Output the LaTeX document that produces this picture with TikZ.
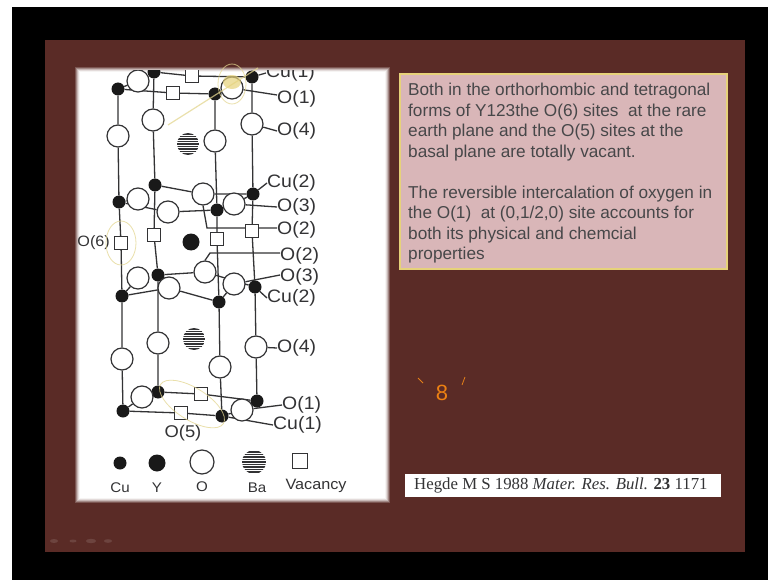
\documentclass[tikz,border=0pt]{standalone}
\usepackage{fontspec}
\setmainfont{Liberation Sans}
\newfontfamily\serifcite{Liberation Serif}
\newfontfamily\lab[FakeStretch=1.08]{Liberation Sans}
\definecolor{slide}{HTML}{5A2B26}
\definecolor{ink}{HTML}{333335}
\definecolor{pinkbox}{HTML}{D9B6B8}
\definecolor{goldline}{HTML}{E6D27A}
\definecolor{marker}{HTML}{E3D690}
\pgfdeclarelayer{back}\pgfdeclarelayer{edges}
\pgfsetlayers{back,edges,main}
\tikzset{
 cusite/.style={circle,fill=black!90,draw=none,minimum size=13pt,inner sep=0pt},
 ysite/.style={circle,fill=black!90,draw=none,minimum size=17pt,inner sep=0pt},
 osite/.style={circle,fill=white,draw=ink,line width=1.2pt,minimum size=22pt,inner sep=0pt},
 vac/.style={rectangle,fill=white,draw=ink,line width=1.2pt,minimum size=13pt,inner sep=0pt},
 ba/.style={circle,minimum size=22pt,inner sep=0pt,path picture={
   \fill[white] (path picture bounding box.south west) rectangle (path picture bounding box.north east);
   \foreach \k in {-10,-7.5,...,10}{\draw[ink,line width=1.7pt] ([yshift=\k pt]path picture bounding box.west) -- ([yshift=\k pt]path picture bounding box.east);}}},
 lbl/.style={font=\lab\fontsize{18}{18}\selectfont,text=ink,inner sep=0pt},
 leg/.style={font=\lab\fontsize{14}{14}\selectfont,text=ink,inner sep=0pt},
 bond/.style={draw=ink,line width=1.3pt},
 handmark/.style={draw=marker,line width=.8pt,opacity=.75},
}
\begin{document}
\begin{tikzpicture}[x=1pt,y=-1pt]
\useasboundingbox (0,0) rectangle (768,580);
\begin{pgfonlayer}{back}
\fill[white] (0,0) rectangle (768,580);
\fill[black] (12,7) rectangle (768,580);
\fill[slide] (45,40) rectangle (745,552);
\foreach \d/\o in {0/.2,1/.3,2/.4,3/.5,4/.7,5/1}{
 \fill[white,opacity=\o] (75+\d,67+\d) rectangle (390-\d,503-\d);}
\fill[pinkbox] (400,74) rectangle (727,269);
\draw[goldline,line width=2pt] (400,74) rectangle (727,269);
\fill[white] (405,474) rectangle (721,497);
\fill[slide!80!white,opacity=.6] (54,541) ellipse (4 and 2) (73,541) ellipse (3.5 and 1.5) (91,541) ellipse (5 and 2.2) (108,541) ellipse (4 and 1.8);
\end{pgfonlayer}

% top basal plane
\begin{scope}
\clip (70,71) rectangle (390,510);
\node[cusite] (ca1) at (118,89) {};
\node[cusite] (cb1) at (154,72) {};
\node[cusite] (cc1) at (215,94) {};
\node[cusite] (cd1) at (252,77) {};
\node[osite] (ob1) at (138,81) {};
\node[osite] (oc1) at (232,88) {};
\node[vac] (vt1) at (192,76) {};
\node[vac] (vt2) at (173,93) {};
\node[lbl,anchor=west] (lcu1t) at (266,73) {Cu(1)};
\end{scope}
\node[osite] (oa2) at (118,136) {};
\node[osite] (ob2) at (153,120) {};
\node[osite] (oc2) at (215,141) {};
\node[osite] (od2) at (252,124) {};
\node[ba] (ba1) at (188,144) {};
% upper CuO2 plane
\node[cusite] (ca3) at (119,202) {};
\node[cusite] (cb3) at (155,185) {};
\node[cusite] (cc3) at (217,210) {};
\node[cusite] (cd3) at (253,194) {};
\node[osite] (ob3) at (138,199) {};
\node[osite] (om3) at (203,194) {};
\node[osite] (on3) at (168,212) {};
\node[osite] (oc3) at (234,204) {};
% yttrium plane
\node[vac] (va4) at (121,243) {};
\node[vac] (vb4) at (154,235) {};
\node[vac] (vc4) at (217,239) {};
\node[vac] (vd4) at (252,231) {};
\node[ysite] (y1) at (191,242) {};
% lower CuO2 plane
\node[osite] (ob5) at (138,278) {};
\node[osite] (om5) at (205,272) {};
\node[cusite] (cb5) at (158,275) {};
\node[cusite] (ca5) at (122,296) {};
\node[osite] (on5) at (169,288) {};
\node[cusite] (cc5) at (219,302) {};
\node[cusite] (cd5) at (255,287) {};
\node[osite] (oc5) at (234,284) {};
% lower BaO plane
\node[osite] (oa6) at (122,359) {};
\node[osite] (ob6) at (158,343) {};
\node[osite] (oc6) at (220,367) {};
\node[osite] (od6) at (256,347) {};
\node[ba] (ba2) at (194,339) {};
% bottom plane
\node[cusite] (ca7) at (123,411) {};
\node[cusite] (cb7) at (158,392) {};
\node[cusite] (cc7) at (222,416) {};
\node[cusite] (cd7) at (257,401) {};
\node[osite] (ob7) at (142,397) {};
\node[osite] (oc7) at (242,410) {};
\node[vac] (vb7) at (201,394) {};
\node[vac] (va7) at (181,413) {};

% labels
\node[lbl,anchor=west] (lo1t) at (277,99) {O(1)};
\node[lbl,anchor=west] (lo4t) at (277,131) {O(4)};
\node[lbl,anchor=west] (lcu2t) at (267,183) {Cu(2)};
\node[lbl,anchor=west] (lo3t) at (277,207) {O(3)};
\node[lbl,anchor=west] (lo2t) at (277,230) {O(2)};
\node[lbl,anchor=west] (lo2b) at (280,256) {O(2)};
\node[lbl,anchor=west] (lo3b) at (280,277) {O(3)};
\node[lbl,anchor=west] (lcu2b) at (267,298) {Cu(2)};
\node[lbl,anchor=west] (lo4b) at (277,348) {O(4)};
\node[lbl,anchor=west] (lo1b) at (282,405) {O(1)};
\node[lbl,anchor=west] (lcu1b) at (273,425) {Cu(1)};
\node[lbl,font=\lab\fontsize{17}{17}\selectfont] (lo5) at (183,433) {O(5)};
\node[lbl,font=\lab\fontsize{15}{15}\selectfont,anchor=east] (lo6) at (110,243) {O(6)};

% legend
\node[cusite] (kcu) at (120,463) {};
\node[ysite] (ky) at (157,463) {};
\node[osite,minimum size=24pt] (ko) at (202,462) {};
\node[ba,minimum size=24pt] (kba) at (254,462) {};
\node[vac,minimum size=15pt] (kv) at (300,461) {};
\node[leg] (tcu) at (120,488) {Cu};
\node[leg] (ty) at (157,488) {Y};
\node[leg] (to) at (202,487) {O};
\node[leg] (tba) at (257,488) {Ba};
\node[leg,font=\lab\fontsize{15}{15}\selectfont] (tv) at (316,486) {Vacancy};

\begin{pgfonlayer}{edges}
\begin{scope}
\clip (70,71) rectangle (390,510);
\path[bond] (cb1) -- (vt1) -- (cd1);
\path[bond] (ca1) -- (vt2) -- (cc1);
\path[bond] (ca1) -- (ob1) (cc1) -- (oc1);
\path[bond] (cd1) -- (lcu1t.west);
\end{scope}
\path[bond] (ca1) -- (oa2) -- (ca3) -- (va4) -- (ca5) -- (oa6) -- (ca7);
\path[bond] (cb1) -- (ob2) -- (cb3) -- (vb4) -- (cb5) -- (ob6) -- (cb7);
\path[bond] (cc1) -- (oc2) -- (cc3) -- (vc4) -- (cc5) -- (oc6) -- (cc7);
\path[bond] (cd1) -- (od2) -- (cd3) -- (vd4) -- (cd5) -- (od6) -- (cd7);
\path[bond] (ca3) -- (ob3) (ca3) -- (on3) -- (cc3) -- (oc3) (cb3) -- (om3) -- (cd3);
\path[bond] (cd3) -- (oc3);
\path[bond] (ca5) -- (ob5) (ca5) -- (on5) -- (cc5) -- (oc5) (cb5) -- (om5) -- (cd5);
\path[bond] (cb7) -- (vb7) -- (cd7) (ca7) -- (va7) -- (cc7) (ca7) -- (ob7) (cc7) -- (oc7);
% leaders
\path[bond] (oc1) -- ([yshift=4pt]lo1t.west);
\path[bond] (od2) -- (lo4t.west);
\path[bond] (cd3) -- (lcu2t.west);
\path[bond] (oc3) -- (lo3t.west);
\path[bond] (om3.south) -- (207,228) -- ([yshift=2pt]lo2t.west);
\path[bond] (om5.north) -- (210,253) -- ([yshift=3pt]lo2b.west);
\path[bond] (oc5) -- ([yshift=2pt]lo3b.west);
\path[bond] (cd5) -- (lcu2b.west);
\path[bond] (od6) -- (lo4b.west);
\path[bond] (oc7) -- (lo1b.west);
\path[bond] (cc7) -- (lcu1b.west);
\end{pgfonlayer}

% hand annotations
\coordinate (mka) at (168,125);
\coordinate (mkb) at (258,68);
\draw[handmark,line width=1.2pt] (mka) -- (mkb);
\fill[goldline,opacity=.7] (232,82) ellipse (9 and 7);
\draw[handmark] (232,84) ellipse (14 and 20);
\draw[handmark] (121,243) ellipse (15 and 22);
\draw[handmark] (192,404) ellipse [x radius=37,y radius=16,rotate=-32];

% text box
\node[anchor=north west,inner sep=0pt,text=ink!90,font=\fontsize{17.2}{20.5}\selectfont,align=left] (txt) at (408,83)
{Both in the orthorhombic and tetragonal\\
forms of Y123the O(6) sites\ \ at the rare\\
earth plane and the O(5) sites at the\\
basal plane are totally vacant.\\[20.4pt]
The reversible intercalation of oxygen in\\
the O(1)\ \ at (0,1/2,0) site accounts for\\
both its physical and chemcial\\
properties};
% citation
\node[anchor=west,inner sep=0pt,text=ink,font=\serifcite\fontsize{16.8}{18}\selectfont] (cite) at (414,485.5)
{Hegde M S 1988 \textit{Mater. Res. Bull.} \textbf{23} 1171};
% stray marks
\node[inner sep=0pt,text=orange!70!brown,font=\fontsize{22}{22}\selectfont] (eight) at (442,393) {8};
\coordinate (t1a) at (418,378);\coordinate (t1b) at (423,383);
\coordinate (t2a) at (465,377);\coordinate (t2b) at (462,385);
\draw[orange!60!brown,line width=.8pt] (t1a) -- (t1b) (t2a) -- (t2b);
\end{tikzpicture}
\end{document}
